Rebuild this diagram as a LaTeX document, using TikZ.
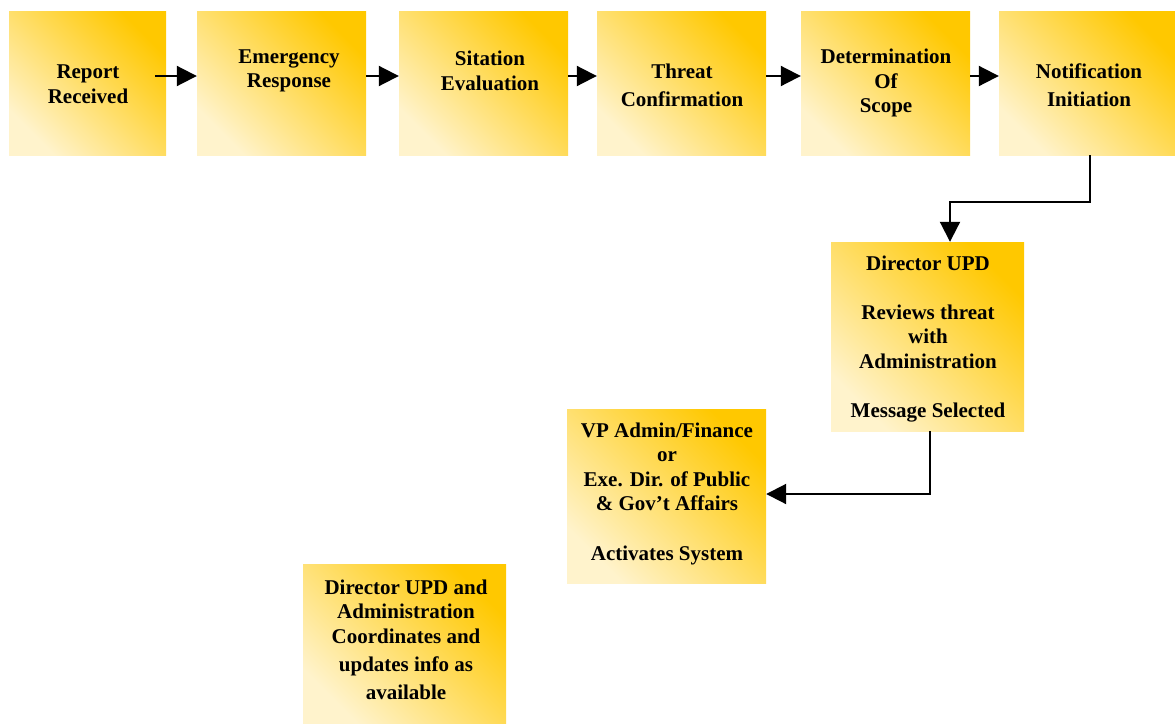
\documentclass[tikz,border=0pt]{standalone}
\usepackage{fontspec}
\setmainfont{Liberation Serif}
\usetikzlibrary{arrows.meta}
\definecolor{gold}{HTML}{FFC800}
\definecolor{cream}{HTML}{FFF3CC}
\begin{document}
\begin{tikzpicture}[x=1pt,y=-1pt,
  box/.style={rectangle, draw=none, inner sep=0pt, top color=gold, bottom color=cream, shading angle=-45},
  lbl/.style={font=\bfseries\fontsize{21}{24.5}\selectfont, align=center, inner sep=0pt},
  conn/.style={line width=2pt, -{Triangle[length=20pt,width=20pt]}}]
\useasboundingbox (0,0) rectangle (1175,723);
% boxes
\node[box, minimum width=157pt, minimum height=144pt] (b1) at (87.5,83) {};
\node[box, minimum width=169pt, minimum height=144pt] (b2) at (281.5,83) {};
\node[box, minimum width=169pt, minimum height=144pt] (b3) at (483.5,83) {};
\node[box, minimum width=169pt, minimum height=144pt] (b4) at (681.5,83) {};
\node[box, minimum width=169pt, minimum height=144pt] (b5) at (885.5,83) {};
\node[box, minimum width=176pt, minimum height=144pt] (b6) at (1087,83) {};
\node[box, minimum width=193pt, minimum height=189pt] (b7) at (927.5,336.5) {};
\node[box, minimum width=199pt, minimum height=174pt] (b8) at (666.5,496) {};
\node[box, minimum width=203pt, minimum height=159pt] (b9) at (404.5,643.5) {};
% labels
\node[lbl] (t1) at (88,84) {Report\\Received};
\node[lbl] (t2) at (289,71) {Emergency\\Response};
\node[lbl] (t3) at (490,71) {Sitation\\Evaluation};
\node[lbl] (t4) at (682,85) {Threat\\[3.5pt]Confirmation};
\node[lbl] (t5) at (886,83) {Determination\\Of\\Scope};
\node[lbl] (t6) at (1089,85) {Notification\\[3.5pt]Initiation};
\node[lbl] (t7) at (928,339) {Director UPD\\[24.5pt]Reviews threat\\with\\Administration\\[24.5pt]Message Selected};
\node[lbl] (t8) at (667,493.5) {VP Admin/Finance\\or\\Exe. Dir. of Public\\\& Gov’t Affairs\\[25pt]Activates System};
\node[lbl] (t9) at (406,639.5) {Director UPD and\\Administration\\Coordinates and\\[3.5pt]updates info as\\[3.5pt]available};
% connectors
\draw[conn] ([xshift=-11pt,yshift=7pt]b1.east) -- ([yshift=7pt]b2.west);
\draw[conn] ([yshift=7pt]b2.east) -- ([yshift=7pt]b3.west);
\draw[conn] ([yshift=7pt]b3.east) -- ([yshift=7pt]b4.west);
\draw[conn] ([yshift=7pt]b4.east) -- ([yshift=7pt]b5.west);
\draw[conn] ([yshift=7pt]b5.east) -- ([yshift=7pt]b6.west);
\draw[conn] ([xshift=3pt]b6.south) -- ++(0,47) -| ([xshift=22.5pt]b7.north);
\draw[conn] ([xshift=2.5pt]b7.south) |- ([yshift=2pt]b8.east);
\end{tikzpicture}
\end{document}
